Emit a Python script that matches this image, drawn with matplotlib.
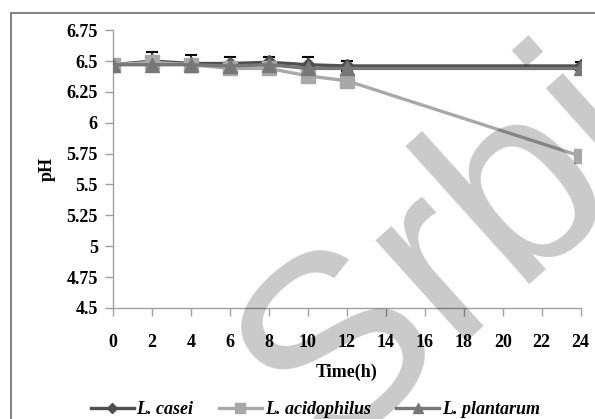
import matplotlib
matplotlib.use('Agg')
import matplotlib.pyplot as plt
from matplotlib.patches import Rectangle

plt.rcParams['font.family'] = 'Liberation Serif'

time_h = [0, 2, 4, 6, 8, 10, 12, 24]
ph_casei = [6.47, 6.50, 6.48, 6.48, 6.49, 6.47, 6.46, 6.46]
ph_acidophilus = [6.47, 6.49, 6.47, 6.44, 6.44, 6.38, 6.34, 5.73]
ph_plantarum = [6.47, 6.47, 6.47, 6.46, 6.47, 6.44, 6.44, 6.44]
err_casei = [0.0, 0.07, 0.07, 0.05, 0.04, 0.06, 0.04, 0.03]

yticks = [4.5, 4.75, 5, 5.25, 5.5, 5.75, 6, 6.25, 6.5, 6.75]
ytick_labels = ['4.5', '4.75', '5', '5.25', '5.5', '5.75', '6', '6.25', '6.5', '6.75']
xticks = list(range(0, 25, 2))

fig = plt.figure(figsize=(5.95, 4.19), dpi=100)
ax = fig.add_axes([0.190, 0.265, 0.786, 0.663])

ax.errorbar(time_h, ph_casei, yerr=err_casei, fmt='none', ecolor='black',
            elinewidth=1.2, capsize=4, capthick=1.5, zorder=1)
ax.plot(time_h, ph_casei, color='#4f4f4f', lw=2.4, marker='D', ms=7,
        label='L. casei', zorder=2)
ax.plot(time_h, ph_acidophilus, color='#a8a8a8', lw=2.4, marker='s', ms=10,
        label='L. acidophilus', zorder=3)
ax.plot(time_h, ph_plantarum, color='#777777', lw=2.4, marker='^', ms=10,
        label='L. plantarum', zorder=4)

ax.set_xlim(0, 24)
ax.set_ylim(4.5, 6.75)
ax.set_xticks(xticks)
ax.set_yticks(yticks)
ax.set_yticklabels(ytick_labels)
for s in ['top', 'right']:
    ax.spines[s].set_visible(False)
for s in ['left', 'bottom']:
    ax.spines[s].set_color('#a0a0a0')
    ax.spines[s].set_linewidth(1.0)
ax.tick_params(direction='out', length=6, width=1.0, color='#a0a0a0',
               labelsize=13)
ax.tick_params(axis='x', pad=13)
ax.tick_params(axis='y', pad=5)
for lab in ax.get_xticklabels() + ax.get_yticklabels():
    lab.set_fontweight('bold')

ax.set_xlabel('Time(h)', fontsize=13, fontweight='bold', labelpad=9)
ax.set_ylabel('pH', fontsize=13, fontweight='bold', labelpad=8)

fig.legend(loc='center', bbox_to_anchor=(0.53, 0.023), ncol=3, frameon=False,
           prop={'style': 'italic', 'weight': 'bold', 'size': 13},
           handlelength=2.4, handletextpad=0.15, columnspacing=1.4,
           markerscale=0.75)

# outer chart frame
fig.patches.append(Rectangle((11 / 595, -0.2), 1.2, 1.2 - 13 / 419,
                             transform=fig.transFigure, fill=False,
                             edgecolor='#858585', lw=1.5))

# watermark
fig.text(324 / 595, 1 - 459 / 419, 'Srbi', fontsize=185,
         family='Liberation Sans', color='black', alpha=0.21, rotation=42,
         ha='left', va='baseline', rotation_mode='anchor', zorder=10)

fig.savefig('out.png', dpi=100)
